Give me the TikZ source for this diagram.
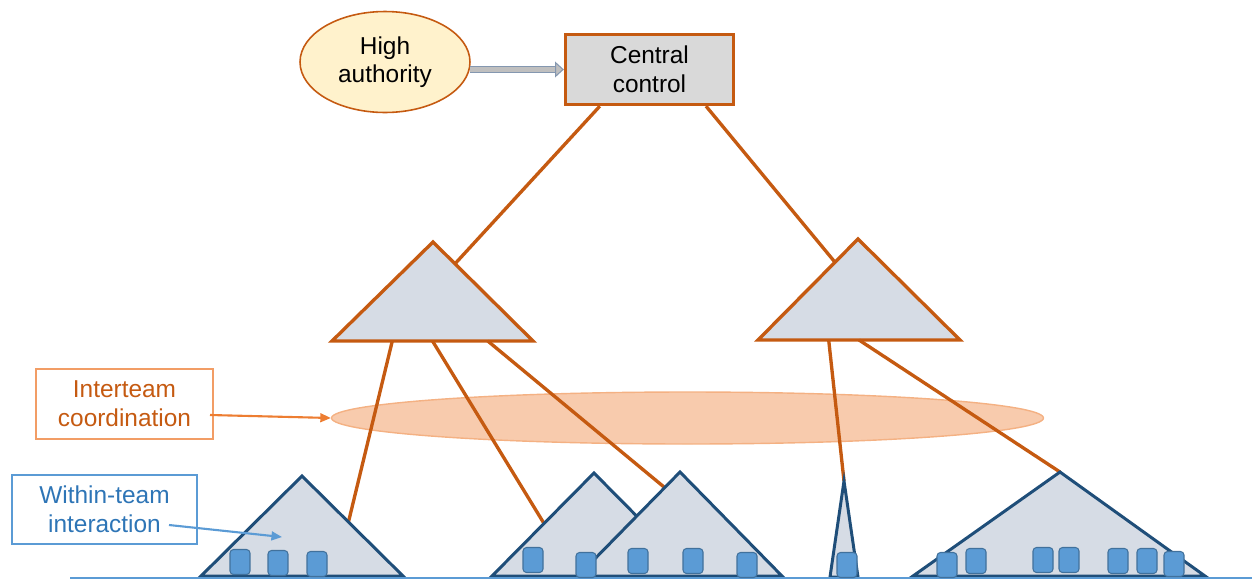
\documentclass[tikz,border=0pt]{standalone}
\usepackage{fontspec}
\setmainfont{Liberation Sans}
\usetikzlibrary{arrows.meta,calc,shapes.geometric}
\definecolor{rust}{HTML}{C55A11}
\definecolor{teamfill}{HTML}{D6DCE5}
\definecolor{teamedge}{HTML}{1F4E79}
\definecolor{member}{HTML}{5B9BD5}
\definecolor{memberedge}{HTML}{41719C}
\definecolor{cream}{HTML}{FFF2CC}
\definecolor{boxgray}{HTML}{D9D9D9}
\definecolor{peach}{HTML}{F8CBAD}
\definecolor{peachedge}{HTML}{F4B183}
\definecolor{brightorange}{HTML}{ED7D31}
\definecolor{textblue}{HTML}{2E75B6}
\definecolor{arrowedge}{HTML}{8497B0}
\definecolor{arrowfill}{HTML}{BFBFBF}
\tikzset{
  txt/.style={font=\fontsize{13.9}{16.3}\selectfont, align=center},
  midteam/.style={draw=rust, fill=teamfill, line width=1.9pt, line join=miter},
  team/.style={draw=teamedge, fill=teamfill, line width=1.7pt, line join=miter},
  link/.style={draw=rust, line width=1.9pt},
  memberbox/.style={draw=memberedge, fill=member, line width=0.6pt, rounded corners=2pt,
    minimum width=0.4cm, minimum height=0.5cm, inner sep=0pt},
}
\begin{document}
\begin{tikzpicture}[x=0.02cm, y=-0.02cm]
\useasboundingbox (0,0) rectangle (1252,579);

% top: authority and central control
\node[txt, ellipse, draw=rust, fill=cream, line width=0.9pt, minimum width=3.4cm,
      minimum height=2.02cm, inner sep=0pt] (ha) at (385,62) {High\\authority};
\node[txt, draw=rust, fill=boxgray, line width=1.9pt, minimum width=3.36cm,
      minimum height=1.4cm, inner sep=0pt] (cc) at (649.5,69.5) {Central\\control};
\coordinate (haOut) at ($(ha.east)+(-1,7.5)$);
\draw[line width=0.6pt, draw=arrowedge, double=arrowfill, double distance=2.8pt,
      -{Triangle[length=5pt,width=9pt,fill=arrowfill]}] (haOut) -- (cc.west);

% middle-level teams
\coordinate (mlA) at (433,242); \coordinate (mlL) at (332,341); \coordinate (mlR) at (533,341);
\coordinate (mrA) at (858,239); \coordinate (mrL) at (758,340); \coordinate (mrR) at (960,340);

\coordinate (ccL) at ($(cc.south west)!0.21!(cc.south east)$);
\coordinate (ccR) at ($(cc.south west)!0.83!(cc.south east)$);
\coordinate (mlHit) at ($(mlA)!0.22!(mlR)$);
\coordinate (mrHit) at ($(mrA)!0.23!(mrL)$);
\draw[link] (ccL) -- (mlHit);
\draw[link] (ccR) -- (mrHit);

\filldraw[midteam] (mlA) -- (mlR) -- (mlL) -- cycle;
\filldraw[midteam] (mrA) -- (mrR) -- (mrL) -- cycle;

% interteam coordination zone
\node[ellipse, draw=peachedge, fill=peach, line width=0.8pt, minimum width=14.24cm,
      minimum height=1.04cm, inner sep=0pt] (zone) at (687.5,418) {};

% bottom-level teams
\coordinate (t1A) at (302,476); \coordinate (t1L) at (201,576); \coordinate (t1R) at (403,576);
\coordinate (t2A) at (594,473); \coordinate (t2L) at (492,576); \coordinate (t2R) at (696,576);
\coordinate (t3A) at (680,472); \coordinate (t3L) at (578,576); \coordinate (t3R) at (782,576);
\coordinate (t4A) at (844,481); \coordinate (t4L) at (830,577); \coordinate (t4R) at (858,577);
\coordinate (t5A) at (1060,472); \coordinate (t5L) at (913,576); \coordinate (t5R) at (1205,576);

% links from middle teams down to bottom teams
\coordinate (mlB1) at ($(mlL)!0.30!(mlR)$);
\coordinate (mlB2) at ($(mlL)!0.50!(mlR)$);
\coordinate (mlB3) at ($(mlL)!0.775!(mlR)$);
\coordinate (mrB1) at ($(mrL)!0.35!(mrR)$);
\coordinate (mrB2) at ($(mrL)!0.50!(mrR)$);
\coordinate (t1Hit) at ($(t1A)!0.46!(t1R)$);
\coordinate (t2Hit) at ($(t2A)!0.49!(t2L)$);
\coordinate (t3Hit) at ($(t3A)!0.15!(t3L)$);
\draw[link] (mlB1) -- (t1Hit);
\draw[link] (mlB2) -- (t2Hit);
\draw[link] (mlB3) -- (t3Hit);
\draw[link] (mrB1) -- (t4A);
\draw[link] (mrB2) -- (t5A);

\foreach \t in {t1,t2,t3,t4,t5}{
  \filldraw[team] (\t A) -- (\t R) -- (\t L) -- cycle;
}

% ground line
\coordinate (g0) at (70,578); \coordinate (g1) at (1252,578);
\draw[member, line width=1.2pt] (g0) -- (g1);

% team members
\foreach \n/\x/\y in {m1/240/562, m2/278/563, m3/317/564,
    m4/533/560, m5/586/565, m6/638/561, m7/693/561, m8/747/565,
    m9/847/565,
    m10/947/565, m11/976/561, m12/1043/560, m13/1069/560,
    m14/1118/561, m15/1147/561, m16/1174/564}{
  \node[memberbox] (\n) at (\x,\y) {};
}

% labels
\node[txt, text=rust, draw=brightorange!75, line width=0.6pt, minimum width=3.54cm,
      minimum height=1.4cm, inner sep=0pt] (itc) at (124.5,404) {Interteam\\coordination};
\coordinate (itcOut) at (210,415);
\draw[brightorange, line width=1.2pt, -{Triangle[length=6pt,width=5pt]}] (itcOut) -- (zone.west);

\node[txt, text=textblue, draw=member, line width=0.6pt, minimum width=3.7cm,
      minimum height=1.38cm, inner sep=0pt] (wti) at (104.5,509.5) {Within-team\\interaction};
\coordinate (wtiOut) at (169,525);
\coordinate (wtiIn) at (282,537);
\draw[member, line width=1.2pt, -{Triangle[length=6pt,width=5pt]}] (wtiOut) -- (wtiIn);
\end{tikzpicture}
\end{document}
